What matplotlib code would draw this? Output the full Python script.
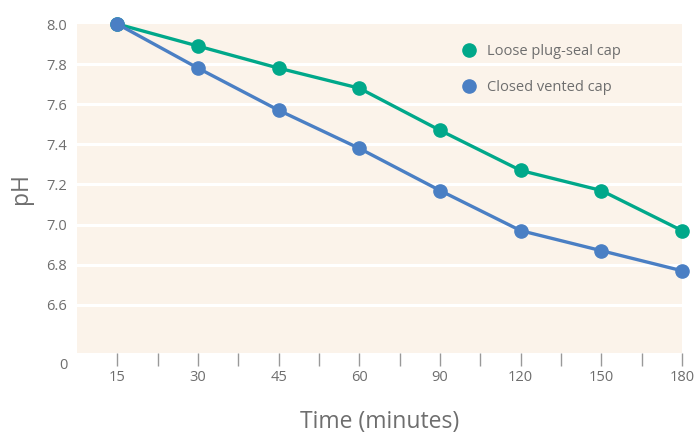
import matplotlib
matplotlib.use('Agg')
from matplotlib import pyplot as plt
import numpy as np

times = ['15', '30', '45', '60', '90', '120', '150', '180']
loose_plug = [8.00, 7.89, 7.78, 7.68, 7.47, 7.27, 7.17, 6.97]
closed_vented = [8.00, 7.78, 7.57, 7.38, 7.17, 6.97, 6.87, 6.77]
y_ticks = [6.6, 6.8, 7.0, 7.2, 7.4, 7.6, 7.8, 8.0]
y_labels = ['6.6', '6.8', '7.0', '7.2', '7.4', '7.6', '7.8', '8.0']

plt.rcParams['font.family'] = ['Open Sans', 'DejaVu Sans']
grey = '#6e6e6e'
green = '#00a88a'
blue = '#4a7fc4'

fig = plt.figure(figsize=(6.98, 4.34), dpi=100)
ax = fig.add_axes([77 / 698, 1 - 353 / 434, (682 - 77) / 698, (353 - 24) / 434])
ax.set_facecolor('#fbf3ea')

x = np.arange(len(times))
ax.plot(x, loose_plug, color=green, lw=2.4, marker='o', ms=9.5,
        label='Loose plug-seal cap', clip_on=False, zorder=3)
ax.plot(x, closed_vented, color=blue, lw=2.4, marker='o', ms=9.5,
        label='Closed vented cap', clip_on=False, zorder=3)

ax.set_xlim(-0.5, len(times) - 1)
ax.set_ylim(6.36, 8.0)

ax.set_yticks(y_ticks, y_labels)
for yv in y_ticks[:-1]:
    ax.axhline(yv, color='white', lw=2.2, zorder=1)

# the broken axis "0" sits just below the bottom of the panel
ax.annotate('0', xy=(0, 0), xycoords='axes fraction', xytext=(-7, -9),
            textcoords='offset points', ha='right', va='center',
            fontsize=10.5, color=grey)

ax.set_xticks(x, times)
ax.set_xticks(x[:-1] + 0.5, minor=True)
ax.tick_params(axis='x', which='both', length=9, width=1, color='#999999',
               labelsize=10.5, labelcolor=grey, pad=3)
ax.tick_params(axis='y', length=0, labelsize=10.5, labelcolor=grey, pad=7)

for s in ax.spines.values():
    s.set_visible(False)

ax.set_xlabel('Time (minutes)', fontsize=16.5, color=grey, labelpad=18)
ax.set_ylabel('pH', fontsize=16.5, color=grey, labelpad=10)

leg = ax.legend(loc='upper left', bbox_to_anchor=(0.628, 0.956), frameon=False,
                fontsize=10.5, labelcolor=grey, handlelength=0.8,
                handletextpad=0.85, labelspacing=1.45, borderaxespad=0)
for h in leg.legend_handles:
    h.set_linestyle('none')

fig.savefig('out.png', dpi=100)
